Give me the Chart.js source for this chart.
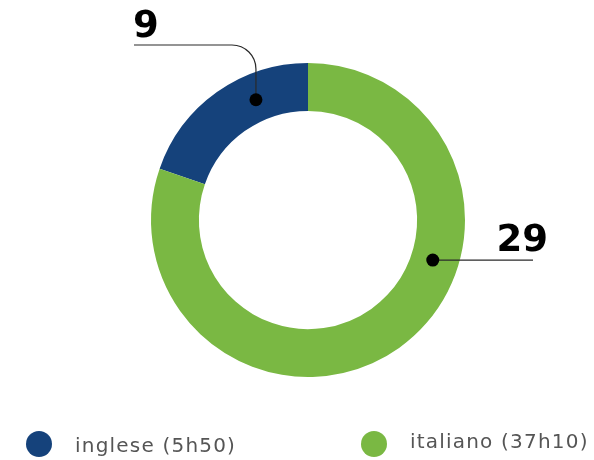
<!DOCTYPE html>
<html>
<head>
<meta charset="utf-8">
<script src="https://cdn.jsdelivr.net/npm/chart.js@4/dist/chart.umd.min.js"></script>
<style>
  html, body { margin: 0; padding: 0; background: #fff; }
  #wrap { position: relative; width: 594px; height: 460px; }
  #chart { position: absolute; left: 0; top: 0; }
  .leg { position: absolute; display: flex; align-items: center; font-family: "DejaVu Sans", sans-serif; font-weight: 400; font-size: 20px; letter-spacing: 1.2px; color: #555; white-space: nowrap; }
  .leg i { display: inline-block; width: 26px; height: 26px; border-radius: 50%; margin-right: 23px; }
  .leg span { position: relative; }
</style>
</head>
<body>
<div id="wrap">
  <canvas id="chart" width="594" height="460"></canvas>
  <div id="legend"></div>
</div>
<script>
// categories and values
var labels = ['inglese (5h50)', 'italiano (37h10)'];
var calloutValues = [9, 29];          // numbers printed next to the ring
var sliceShares = [19.7, 80.3];       // share of the ring each slice takes (%)
var colors = ['#15427b', '#7ab843'];

// where on each arc the callout dot sits (0 = slice start, 1 = slice end)
var dotAt = [0.67, 0.373];

var calloutPlugin = {
    id: 'callouts',
    afterDatasetsDraw: function (chart) {
        var ctx = chart.ctx;
        var meta = chart.getDatasetMeta(0);
        meta.data.forEach(function (arc, i) {
            var p = arc.getProps(['x', 'y', 'startAngle', 'endAngle', 'innerRadius', 'outerRadius'], true);
            var a = p.startAngle + (p.endAngle - p.startAngle) * dotAt[i];
            var r = (p.innerRadius + p.outerRadius) / 2 - 2;
            var dx = p.x + Math.cos(a) * r;
            var dy = p.y + Math.sin(a) * r;

            ctx.save();
            ctx.strokeStyle = '#2a2a2a';
            ctx.lineWidth = 1.2;
            ctx.beginPath();
            ctx.moveTo(dx, dy);
            if (i === 0) {
                // up, round the corner, then left to the label
                ctx.arcTo(dx, 45, dx - 24, 45, 24);
                ctx.lineTo(134, 45);
            } else {
                ctx.lineTo(533, dy);
            }
            ctx.stroke();

            ctx.fillStyle = '#000';
            ctx.beginPath();
            ctx.arc(dx, dy, 6.5, 0, Math.PI * 2);
            ctx.fill();

            ctx.font = 'bold 37px "DejaVu Sans"';
            ctx.textBaseline = 'alphabetic';
            if (i === 0) {
                ctx.textAlign = 'left';
                ctx.fillText(String(calloutValues[i]), 133, 37);
            } else {
                ctx.textAlign = 'right';
                ctx.fillText(String(calloutValues[i]), 548, 251);
            }
            ctx.restore();
        });
    }
};

function LoadChart() {
    var data = {
        labels: labels,
        datasets: [{
            data: sliceShares,
            backgroundColor: colors,
            borderWidth: 0,
            hoverOffset: 0
        }]
    };
    var config = {
        type: 'doughnut',
        data: data,
        options: {
            responsive: false,
            animation: false,
            rotation: -sliceShares[0] / 100 * 360,
            cutout: '69.5%',
            layout: { padding: { left: 151, right: 129, top: 63, bottom: 83 } },
            plugins: {
                legend: { display: false },
                tooltip: { enabled: false }
            }
        },
        plugins: [calloutPlugin]
    };
    new Chart(document.getElementById('chart'), config);
}

function LoadLegend() {
    var spots = [{ left: 26, top: 431, lift: 1 }, { left: 361, top: 431, lift: -3 }];
    var html = '';
    for (var i = 0; i < labels.length; i++) {
        html += `<div class="leg" style="left:${spots[i].left}px;top:${spots[i].top}px"><i style="background:${colors[i]}"></i><span style="top:${spots[i].lift}px">${labels[i]}</span></div>`;
    }
    document.getElementById('legend').innerHTML = html;
}

LoadChart();
LoadLegend();
</script>
</body>
</html>
